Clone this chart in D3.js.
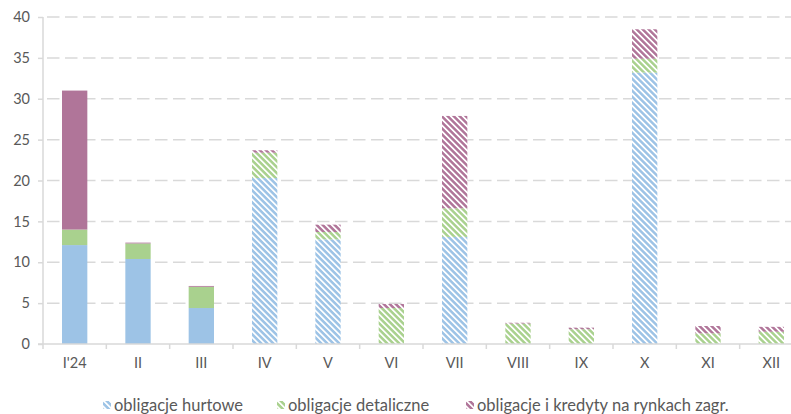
<!DOCTYPE html>
<html>
<head>
<meta charset="utf-8">
<script src="https://cdn.jsdelivr.net/npm/d3@7"></script>
<style>
  html, body { margin: 0; padding: 0; background: #fff; }
  svg { display: block; }
  text { font-family: Lato, "Open Sans", sans-serif; fill: #595959; }
</style>
</head>
<body>
<svg id="chart" width="791" height="414"></svg>
<script>
// Monthly issuance, bn PLN
const categories = ["I'24", "II", "III", "IV", "V", "VI", "VII", "VIII", "IX", "X", "XI", "XII"];
const hurtowe     = [12.1, 10.4, 4.4, 20.3, 12.8, 0,   13.1, 0,   0,   33.2, 0,   0];
const detaliczne  = [1.9,  1.9,  2.6, 3.1,  0.9,  4.4, 3.5,  2.5, 1.8, 1.7,  1.3, 1.5];
const zagraniczne = [17.0, 0.1,  0.1, 0.3,  0.9,  0.5, 11.3, 0.1, 0.2, 3.6,  0.9, 0.6];
// months already executed (solid) vs. planned (hatched)
const executed = [true, true, true, false, false, false, false, false, false, false, false, false];
const seriesNames = ["obligacje hurtowe", "obligacje detaliczne", "obligacje i kredyty na rynkach zagr."];
const yTicks = [0, 5, 10, 15, 20, 25, 30, 35, 40];

const colors = ["#9DC3E6", "#A9D18E", "#B07599"];
const keys = ["h", "d", "z"];

const svg = d3.select("#chart");
const defs = svg.append("defs");

colors.forEach((c, i) => {
  const p = defs.append("pattern")
    .attr("id", "hatch" + i)
    .attr("patternUnits", "userSpaceOnUse")
    .attr("width", 4.24).attr("height", 10)
    .attr("patternTransform", "rotate(-45)");
  p.append("rect").attr("width", 4.24).attr("height", 10).attr("fill", "#fff");
  p.append("rect").attr("width", 2.5).attr("height", 10).attr("fill", c);
});

const x = d3.scaleBand().domain(categories).range([43, 803]).padding(0);
const y = d3.scaleLinear().domain([0, 40]).range([344, 17]);

// gridlines
svg.append("g")
  .selectAll("line")
  .data(yTicks.filter(t => t > 0))
  .join("line")
  .attr("x1", 43).attr("x2", 791)
  .attr("y1", d => y(d)).attr("y2", d => y(d))
  .attr("stroke", "#d9d9d9").attr("stroke-width", 1.5)
  .attr("stroke-dasharray", "12.5,5.5")
  .attr("stroke-dashoffset", -4);

// stacked bars
const rows = categories.map((c, i) => ({ cat: c, h: hurtowe[i], d: detaliczne[i], z: zagraniczne[i], solid: executed[i] }));
const stack = d3.stack().keys(keys)(rows);
const barW = x.bandwidth() * 0.4;

stack.forEach((layer, si) => {
  svg.append("g")
    .selectAll("rect")
    .data(layer.filter(d => d[1] - d[0] > 0))
    .join("rect")
    .attr("x", d => x(d.data.cat) + (x.bandwidth() - barW) / 2)
    .attr("width", barW)
    .attr("y", d => y(d[1]))
    .attr("height", d => y(d[0]) - y(d[1]))
    .attr("fill", d => d.data.solid ? colors[si] : `url(#hatch${si})`);
});

// y axis
const yAxis = svg.append("g").attr("transform", "translate(43,0)")
  .call(d3.axisLeft(y).tickValues(yTicks).tickSize(5).tickPadding(8).tickFormat(d3.format("d")));
yAxis.select(".domain").attr("stroke", "#d9d9d9").attr("stroke-width", 1.5).attr("d", `M0,${y(40)}V${y(0)}`);
yAxis.selectAll(".tick line").attr("stroke", "#d9d9d9").attr("stroke-width", 1.5);
yAxis.selectAll(".tick text").style("font-size", "14.5px").attr("fill", "#595959");

// x axis with ticks between categories
const xAxis = svg.append("g").attr("transform", `translate(0,${y(0)})`);
xAxis.append("line").attr("x1", 38).attr("x2", 791).attr("stroke", "#d9d9d9").attr("stroke-width", 1.5);
xAxis.selectAll("line.sep")
  .data(categories)
  .join("line").attr("class", "sep")
  .attr("x1", d => x(d)).attr("x2", d => x(d))
  .attr("y1", 0).attr("y2", 5)
  .attr("stroke", "#d9d9d9").attr("stroke-width", 1.5);
xAxis.selectAll("text")
  .data(categories)
  .join("text")
  .attr("x", d => x(d) + x.bandwidth() / 2)
  .attr("y", 24)
  .attr("text-anchor", "middle")
  .style("font-size", "14.5px")
  .text(d => d);

// legend
const legendX = [103, 277, 466];
const legend = svg.append("g").attr("transform", "translate(0,405)");
seriesNames.forEach((name, i) => {
  const g = legend.append("g").attr("transform", `translate(${legendX[i]},0)`);
  g.append("rect").attr("x", 0).attr("y", -4).attr("width", 8).attr("height", 8).attr("rx", 1.5)
    .attr("fill", `url(#hatch${i})`);
  g.append("text").attr("x", 11).attr("y", 5.5).style("font-size", "16.5px").text(name);
});
</script>
</body>
</html>
